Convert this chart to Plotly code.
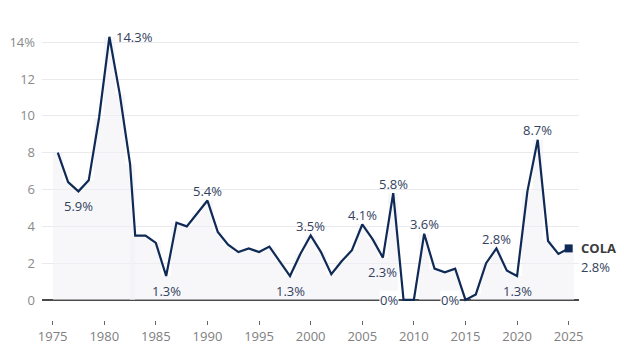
import plotly.graph_objects as go

# Effective dates (decimal years) and COLA values (%)
dates = [1975.5, 1976.5, 1977.5, 1978.5, 1979.5, 1980.5, 1981.5, 1982.5,
         1983, 1984, 1985, 1986, 1987, 1988, 1989, 1990, 1991, 1992, 1993, 1994,
         1995, 1996, 1997, 1998, 1999, 2000, 2001, 2002, 2003, 2004, 2005, 2006,
         2007, 2008, 2009, 2010, 2011, 2012, 2013, 2014, 2015, 2016, 2017, 2018,
         2019, 2020, 2021, 2022, 2023, 2024, 2025]
cola = [8.0, 6.4, 5.9, 6.5, 9.9, 14.3, 11.2, 7.4,
        3.5, 3.5, 3.1, 1.3, 4.2, 4.0, 4.7, 5.4, 3.7, 3.0, 2.6, 2.8,
        2.6, 2.9, 2.1, 1.3, 2.5, 3.5, 2.6, 1.4, 2.1, 2.7, 4.1, 3.3,
        2.3, 5.8, 0.0, 0.0, 3.6, 1.7, 1.5, 1.7, 0.0, 0.3, 2.0, 2.8,
        1.6, 1.3, 5.9, 8.7, 3.2, 2.5, 2.8]

x_ticks = [1975, 1980, 1985, 1990, 1995, 2000, 2005, 2010, 2015, 2020, 2025]
y_ticks = [0, 2, 4, 6, 8, 10, 12, 14]
y_tick_labels = ["0", "2", "4", "6", "8", "10", "12", "14%"]

# Labelled points: (date, value, position)
label_dates = [1980.5, 1977.5, 1986, 1990, 1998, 2000, 2005, 2007, 2008, 2009, 2011, 2015, 2018, 2020, 2022]
label_vals = [14.3, 5.9, 1.3, 5.4, 1.3, 3.5, 4.1, 2.3, 5.8, 0.0, 3.6, 0.0, 2.8, 1.3, 8.7]
label_pos = ["right", "below", "below", "above", "below", "above", "above", "below",
             "above", "left", "above", "left", "above", "below", "above"]

LINE = "#0f2a56"
TXT = "#33425e"
FONT = "Open Sans"

fig = go.Figure()
fig.add_trace(go.Bar(x=dates, y=cola, width=1.0, marker=dict(color="rgba(240,240,245,0.55)", line=dict(width=0)),
                     hoverinfo="skip", showlegend=False))
fig.add_trace(go.Scatter(x=dates, y=cola, mode="lines", line=dict(color=LINE, width=2.2),
                         showlegend=False))
fig.add_trace(go.Scatter(x=[dates[-1]], y=[cola[-1]], mode="markers",
                         marker=dict(symbol="square", size=8, color=LINE), showlegend=False))

def fmt(v):
    return ("%g" % v) + "%"

for d, v, p in zip(label_dates, label_vals, label_pos):
    a = dict(x=d, y=v, xref="x", yref="y", text=fmt(v), showarrow=False,
             font=dict(family=FONT, size=13, color=TXT))
    if p == "right":
        a.update(xanchor="left", yanchor="middle", xshift=5)
    elif p == "below":
        a.update(xanchor="center", yanchor="middle", yshift=-14.5)
    elif p == "above":
        a.update(xanchor="center", yanchor="middle", yshift=9.5)
    elif p == "left":
        a.update(xanchor="right", yanchor="middle", xshift=-5, bgcolor="white", borderpad=0)
    fig.add_annotation(**a)

fig.add_annotation(x=dates[-1], y=cola[-1], xref="x", yref="y", text="<b>COLA</b>", showarrow=False,
                   xanchor="left", yanchor="middle", xshift=10, yshift=0,
                   font=dict(family=FONT, size=13, color="#3b3b3b"))
fig.add_annotation(x=dates[-1], y=cola[-1], xref="x", yref="y", text=fmt(cola[-1]), showarrow=False,
                   xanchor="left", yanchor="middle", xshift=10, yshift=-19,
                   font=dict(family=FONT, size=13, color=TXT))

fig.update_layout(
    width=624, height=360,
    margin=dict(l=42, r=45, t=25, b=40, autoexpand=False),
    paper_bgcolor="white", plot_bgcolor="white",
    bargap=0,
    font=dict(family=FONT, size=13, color="#888"),
    xaxis=dict(range=[1973.97, 2026.0], tickvals=x_ticks, ticktext=[str(t) for t in x_ticks],
               showgrid=False, zeroline=False, showline=False, automargin=False,
               ticks="outside", ticklen=4, tickcolor="#666", tickwidth=1,
               tickfont=dict(family=FONT, size=13, color="#808080")),
    yaxis=dict(range=[-1.09, 14.94], tickvals=y_ticks, ticktext=y_tick_labels,
               showgrid=True, gridcolor="#e9e9ee", gridwidth=1, automargin=False,
               zeroline=True, zerolinecolor="#4a4a4a", zerolinewidth=1.8,
               showline=False, ticks="", ticklabelstandoff=6,
               tickfont=dict(family=FONT, size=13, color="#8a8a8a")),
)

fig.write_html("out.html", config={"displayModeBar": False},
               post_script="document.body.style.margin='0';document.body.style.overflow='hidden';")
